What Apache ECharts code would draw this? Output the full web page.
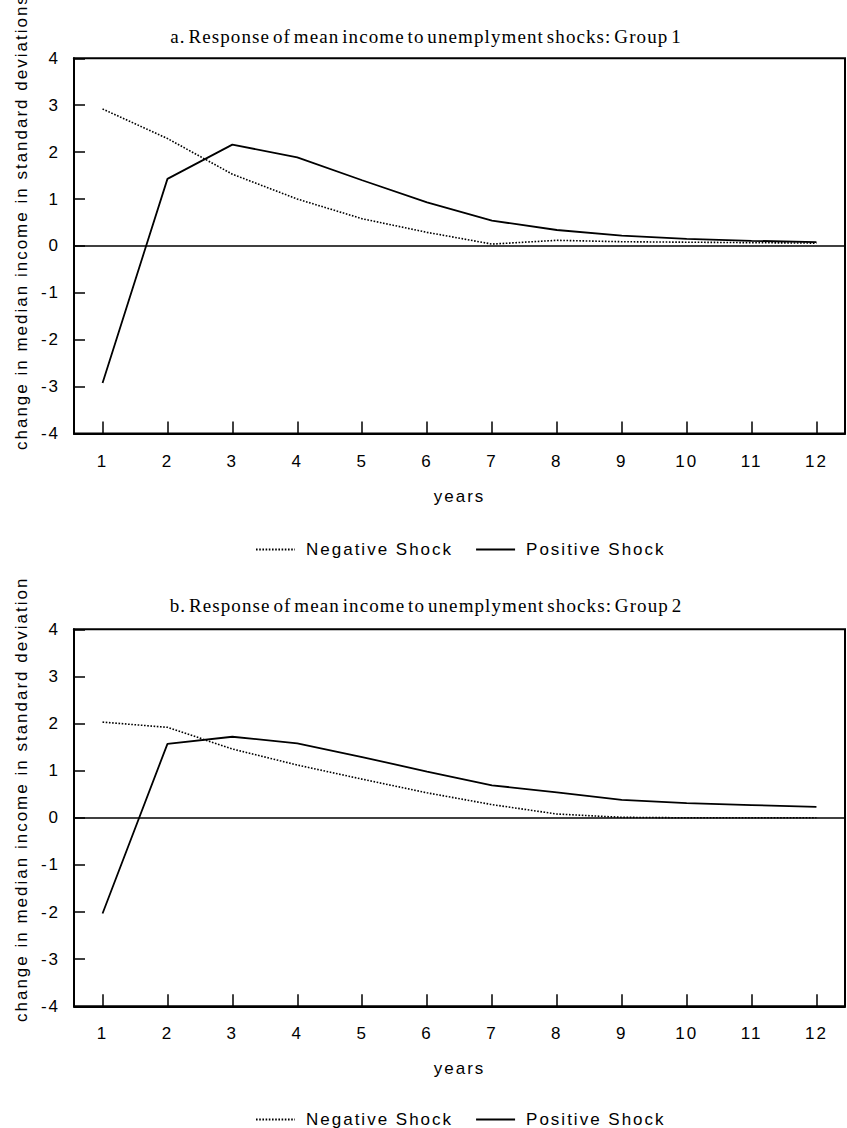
<!DOCTYPE html>
<html><head><meta charset="utf-8">
<script src="https://cdn.jsdelivr.net/npm/echarts@6/dist/echarts.min.js"></script>
<style>
html,body{margin:0;padding:0;background:#fff;}
#wrap{position:relative;width:847px;height:1128px;overflow:hidden;background:#fff;}
#c1{position:absolute;left:0;top:0;width:847px;height:577px;overflow:hidden;}
#c2{position:absolute;left:0;top:577px;width:847px;height:551px;overflow:hidden;}
#wrap svg text{letter-spacing:2px;}
#wrap svg text[style*="Serif"], #wrap svg text[font-family*="Serif"]{letter-spacing:1.1px;word-spacing:-3px;}
</style></head>
<body><div id="wrap"><div id="c1"></div><div id="c2"></div></div>
<script>
const years = [1,2,3,4,5,6,7,8,9,10,11,12];
const seriesNames = ['Negative Shock', 'Positive Shock'];
const titleG1 = 'a. Response of mean income to unemplyment shocks: Group 1';
const titleG2 = 'b. Response of mean income to unemplyment shocks: Group 2';
const yAxisTitle = 'change in median income in standard deviations';
const xAxisTitle = 'years';
const negativeShockG1 = [2.92, 2.29, 1.53, 1.00, 0.58, 0.29, 0.04, 0.12, 0.09, 0.08, 0.07, 0.06];
const positiveShockG1 = [-2.92, 1.43, 2.16, 1.89, 1.40, 0.93, 0.54, 0.34, 0.22, 0.15, 0.11, 0.08];
const negativeShockG2 = [2.03, 1.92, 1.46, 1.12, 0.82, 0.53, 0.28, 0.08, 0.01, 0.00, 0.00, 0.00];
const positiveShockG2 = [-2.03, 1.57, 1.72, 1.58, 1.29, 0.98, 0.69, 0.54, 0.38, 0.31, 0.27, 0.23];

const SANS = 'Liberation Sans';
const SERIF = 'Liberation Serif';

function pairs(vals){ return years.map((y,i)=>[y, vals[i]]); }

function buildOption(title, neg, pos, L){
  const txt = {color:'#000', fontSize:17, fontFamily:SANS};
  return {
    animation:false,
    backgroundColor:'#fff',
    graphic:[
      {type:'text', x:426, y:L.titleY, silent:true,
       style:{text:title, fontSize:19, fontFamily:SERIF, fill:'#000',
              textAlign:'center', textVerticalAlign:'middle', align:'center', verticalAlign:'middle'}},
      {type:'text', x:21, y:L.nameY, rotation:Math.PI/2, silent:true,
       style:{text:yAxisTitle, fontSize:17, fontFamily:SANS, fill:'#000',
              textAlign:'left', textVerticalAlign:'middle', align:'left', verticalAlign:'middle'}}
    ],
    legend:{
      left:250, top:L.legendTop, itemWidth:39, itemHeight:14, itemGap:50,
      data:seriesNames,
      itemStyle:{opacity:0, borderWidth:0},
      textStyle:{color:'#000', fontSize:17, fontFamily:SANS, padding:[0,0,0,6]}
    },
    grid:{left:74, top:L.gridTop, width:771, height:L.gridHeight, show:true,
          borderColor:'#000', borderWidth:2, backgroundColor:'transparent'},
    xAxis:{
      type:'value', min:0.56, max:12.44,
      name:xAxisTitle, nameLocation:'middle', nameGap:54, nameTextStyle:txt,
      axisLine:{show:true, onZero:false, lineStyle:{color:'#000', width:2}},
      axisTick:{show:true, inside:true, length:12, customValues:years, lineStyle:{color:'#000', width:1.5}},
      axisLabel:{show:true, customValues:years, margin:19, ...txt},
      splitLine:{show:false}
    },
    yAxis:{
      type:'value', min:-4, max:4, interval:1,
      axisLine:{show:true, onZero:false, lineStyle:{color:'#000', width:2}},
      axisTick:{show:true, inside:true, length:11, lineStyle:{color:'#000', width:1.5}},
      axisLabel:{show:true, margin:14, ...txt},
      splitLine:{show:false}
    },
    series:[
      {name:seriesNames[0], type:'line', data:pairs(neg), symbol:'none', showSymbol:false,
       color:'#000', lineStyle:{color:'#000', width:1.6, type:[1.6,1.6]}, z:3},
      {name:seriesNames[1], type:'line', data:pairs(pos), symbol:'none', showSymbol:false,
       color:'#000', lineStyle:{color:'#000', width:1.8, type:'solid'}, z:4,
       markLine:{silent:true, symbol:['none','none'], label:{show:false},
                 lineStyle:{color:'#000', width:1.7, type:'solid'}, data:[{yAxis:0}]}}
    ]
  };
}

const chart1 = echarts.init(document.getElementById('c1'), null, {renderer:'svg'});
chart1.setOption(buildOption(titleG1, negativeShockG1, positiveShockG1,
  {gridTop:58.3, gridHeight:375.3, titleY:36, nameY:450, legendTop:536}));
const chart2 = echarts.init(document.getElementById('c2'), null, {renderer:'svg'});
chart2.setOption(buildOption(titleG2, negativeShockG2, positiveShockG2,
  {gridTop:52.3, gridHeight:377, titleY:28, nameY:445, legendTop:529}));
</script>
</body></html>
